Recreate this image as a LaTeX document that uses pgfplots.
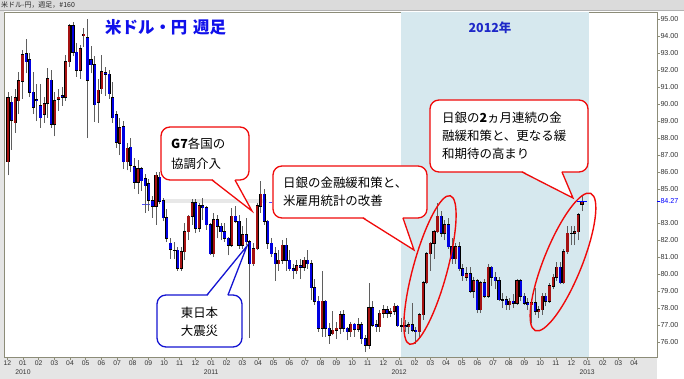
\documentclass[border=0pt]{standalone}
\usepackage{fontspec}
\setmainfont{Liberation Sans}
\newfontfamily\jp{Noto Sans CJK JP}
\usepackage{pgfplots}
\usepackage{pgfplotstable}
\pgfplotsset{compat=1.18}
\definecolor{framec}{RGB}{140,140,120}
\definecolor{upred}{RGB}{165,18,18}
\definecolor{dnblue}{RGB}{0,0,225}
\definecolor{shade}{RGB}{214,232,238}
\definecolor{wick}{RGB}{95,95,95}
\definecolor{titleblue}{RGB}{16,16,235}
\definecolor{yearblue}{RGB}{30,40,200}
\definecolor{calred}{RGB}{240,10,10}
\definecolor{calblue}{RGB}{20,20,210}

\pgfplotstableread{
i o h l c
0 86.6 90.7 85.8 90.35
1 90.1 90.5 87.3 89.05
2 88.9 90.9 88.3 90.35
3 90.2 91.9 89.4 91.35
4 91.35 93.2 90.3 92.9
5 92.95 93.8 91.8 92.5
6 92.6 93.0 90.4 90.7
7 90.7 91.9 89.4 89.8
8 90.25 91.2 89.0 90.2
9 89.9 91.2 88.6 89.2
10 89.4 90.4 88.9 90.0
11 90.05 92.1 89.2 91.5
12 91.4 92.0 88.6 88.8
13 88.8 90.7 88.1 90.2
14 90.3 90.9 89.6 90.4
15 90.5 91.0 89.9 90.4
16 90.4 92.9 90.2 92.5
17 92.5 94.7 92.2 94.6
18 94.6 94.8 92.8 93.05
19 93.05 93.6 91.6 92.0
20 92.0 93.5 91.5 93.25
21 94.05 94.5 93.35 94.1
22 93.9 94.99 88.0 91.4
23 92.6 93.4 91.8 92.3
24 92.3 92.8 88.95 89.95
25 90.1 91.5 88.9 90.8
26 90.9 92.9 90.6 91.9
27 91.85 92.2 90.5 91.75
28 91.75 92.0 90.3 90.6
29 90.35 91.3 88.9 89.2
30 89.35 89.6 87.4 87.75
31 87.7 89.2 87.0 88.6
32 88.65 89.0 86.2 86.6
33 86.6 87.7 86.1 87.4
34 87.45 88.0 86.0 86.4
35 86.3 86.8 85.0 85.4
36 85.4 86.7 84.7 86.2
37 86.2 86.3 84.9 85.5
38 85.6 85.9 83.6 85.2
39 85.3 85.6 83.7 84.35
40 84.3 84.6 83.3 84.0
41 84.0 86.0 82.9 85.8
42 85.7 86.0 84.1 84.3
43 84.3 84.5 83.1 83.3
44 83.3 83.8 81.9 82.1
45 81.8 82.1 80.9 81.45
46 81.4 81.9 80.9 81.4
47 81.4 81.6 80.2 80.35
48 80.35 81.6 80.2 81.3
49 81.3 83.0 80.8 82.5
50 82.5 83.5 82.0 83.4
51 83.4 84.4 82.9 84.2
52 84.2 84.4 82.4 82.7
53 82.7 84.2 82.5 84.0
54 84.0 84.5 83.2 83.9
55 83.9 84.0 82.6 82.9
56 82.9 83.0 81.1 81.2
57 81.2 83.6 81.0 83.2
58 83.2 83.5 82.1 82.8
59 82.8 83.0 82.0 82.5
60 82.5 83.0 81.9 82.1
61 82.1 82.2 81.1 81.7
62 81.7 83.9 81.6 83.4
63 83.4 84.0 83.0 83.1
64 83.1 83.5 81.5 81.7
65 81.7 82.8 81.5 82.3
66 82.3 83.3 81.7 81.9
67 81.9 82.0 76.25 80.6
68 80.6 81.8 80.5 81.5
69 81.5 84.2 81.4 84.0
70 84.0 85.5 83.6 84.7
71 84.7 85.0 82.9 83.1
72 83.1 83.2 81.5 81.8
73 81.8 82.1 81.0 81.2
74 81.2 81.6 79.6 80.6
75 80.6 81.4 80.2 80.8
76 80.8 82.0 80.6 81.7
77 81.7 82.1 80.2 80.8
78 80.8 81.4 80.2 80.3
79 80.3 80.6 79.7 80.2
80 80.2 80.8 80.0 80.5
81 80.5 80.9 79.7 80.4
82 80.4 81.0 80.2 80.8
83 80.8 81.4 80.3 80.6
84 80.6 80.8 78.5 79.2
85 79.2 79.7 78.2 78.4
86 78.4 78.7 76.6 76.8
87 76.8 80.2 76.3 78.4
88 78.4 78.5 76.3 76.8
89 76.8 77.1 75.9 76.4
90 76.5 77.8 76.4 76.7
91 76.7 77.2 76.2 76.8
92 76.8 77.8 76.5 77.6
93 77.6 77.9 76.6 76.8
94 76.8 76.9 76.1 76.6
95 76.6 77.2 76.3 77.05
96 77.05 77.1 76.3 76.75
97 76.75 77.4 76.6 77.0
98 77.0 77.2 75.9 76.2
99 76.2 76.4 75.4 75.8
100 75.8 79.5 75.6 78.0
101 78.0 78.4 76.9 77.0
102 77.0 77.3 76.6 76.9
103 76.9 77.9 76.6 77.7
104 77.7 78.2 77.4 77.9
105 77.9 78.1 77.4 77.7
106 77.7 78.0 77.5 77.8
107 77.8 78.3 77.6 78.1
108 78.1 78.2 76.9 76.95
109 76.95 77.4 76.6 76.95
110 76.95 77.3 76.6 76.9
111 76.9 77.2 76.5 77.0
112 77.0 78.3 76.6 76.7
113 76.7 76.9 75.9 76.6
114 76.6 77.7 76.2 77.6
115 77.6 79.6 77.3 79.5
116 79.5 81.3 79.4 81.2
117 81.2 81.9 80.2 81.8
118 81.8 82.6 80.9 82.5
119 82.5 84.2 82.4 83.4
120 83.4 83.7 82.2 82.4
121 82.4 83.2 82.0 82.9
122 82.9 83.3 81.5 81.6
123 81.6 82.1 80.6 80.9
124 80.9 81.8 80.6 81.6
125 81.6 81.9 80.2 80.3
126 80.3 80.6 79.6 79.9
127 79.8 80.4 79.6 80.0
128 80.0 80.4 78.9 79.0
129 79.0 79.8 78.6 79.6
130 79.6 79.7 77.7 77.9
131 77.9 79.6 77.7 79.5
132 79.5 79.7 78.6 78.7
133 78.7 80.6 78.6 80.4
134 80.4 80.5 79.3 79.8
135 79.8 80.1 79.1 79.6
136 79.6 79.8 78.4 78.5
137 78.5 78.9 78.0 78.5
138 78.5 78.7 77.9 78.2
139 78.2 78.6 77.9 78.4
140 78.4 78.8 78.0 78.3
141 78.3 79.7 78.2 79.6
142 79.6 79.7 78.4 78.7
143 78.7 78.9 78.2 78.3
144 78.3 78.6 77.9 78.2
145 78.2 78.4 77.1 78.3
146 78.3 79.2 77.6 77.8
147 77.8 78.1 77.4 77.9
148 77.9 78.9 77.6 78.7
149 78.7 78.9 78.1 78.4
150 78.4 79.5 78.3 79.3
151 79.3 80.0 79.1 79.8
152 79.8 80.7 79.6 80.4
153 80.4 80.7 79.4 79.5
154 79.5 81.5 79.4 81.3
155 81.3 82.8 81.2 82.4
156 82.4 82.8 81.7 82.4
157 82.4 82.8 81.7 82.5
158 82.5 83.6 82.0 83.5
159 84.1 84.65 83.7 84.27
}\usdjpy

\newcommand{\calfont}{\jp\fontsize{12.5}{12.5}\selectfont}

\begin{document}
\begin{tikzpicture}
\path[use as bounding box] (0,0) rectangle (684bp,379bp);
\fill[white] (0,0) rectangle (684bp,379bp);
\fill[black!10] (0,0) rectangle (657bp,22bp);
\fill[black!10] (0,0) rectangle (4bp,369bp);
\fill[black!14] (0,369bp) rectangle (684bp,379bp);
\draw[black!30, line width=0.5bp] (0,369bp) -- (684bp,369bp);
\begin{axis}[
  at={(4bp,22bp)}, anchor=south west,
  scale only axis, width=653bp, height=345bp,
  xmin=-1.2125, xmax=40.46, ymin=75.118, ymax=95.412,
  axis line style={draw=framec, line width=0.9bp},
  axis background/.style={fill=white},
  tick align=outside, major tick length=2.5bp,
  tick style={draw=framec, line width=0.5bp},
  xtick={-1,0,...,39},
  xticklabels={12,{01\\2010},02,03,04,05,06,07,08,09,10,11,12,{01\\2011},02,03,04,05,06,07,08,09,10,11,12,{01\\2012},02,03,04,05,06,07,08,09,10,11,12,{01\\2013},02,03,04},
  x tick label style={font=\fontsize{6.8}{9.5}\selectfont, align=center, inner sep=1bp, text=black!80},
  xtick pos=left,
  ytick={76,77,78,79,80,81,82,83,85,86,87,88,89,90,91,92,93,94,95},
  ytick pos=right, yticklabel pos=right,
  /pgf/number format/assume math mode=true,
  yticklabel={\pgfmathprintnumber[fixed,fixed zerofill,precision=2]{\tick}},
  y tick label style={font=\fontsize{7.2}{8}\selectfont, inner sep=0.8bp, text=black!80},
  extra y ticks={84.27}, extra y tick labels={84.27},
  extra y tick style={tick style={draw=blue}, yticklabel style={text=blue}},
  candle/.style={draw=none, mark=none, error bars/y explicit, error bars/error mark=none},
]
% 2012 shading
\addplot[fill=shade, draw=none] coordinates {(24.1,75.118) (36.1,75.118) (36.1,95.412) (24.1,95.412)} -- cycle;
% price band
\addplot[draw=black!9, line width=4bp] coordinates {(9.0,84.3) (15.6,84.3)};
\addplot[draw=blue!70, line width=0.6bp] coordinates {(7.6,84.1) (8.1,84.1)};
\addplot[draw=blue!70, line width=0.6bp, dashed] coordinates {(15.3,84.24) (16.1,84.24)};
% wicks
\addplot[candle, error bars/.cd, y dir=plus, error bar style={draw=wick, line width=0.9bp}]
  table[x expr={\thisrow{i}*0.23037-0.957}, y=l, y error plus expr={\thisrow{h}-\thisrow{l}}] {\usdjpy};
% body outline
\addplot[candle, error bars/.cd, y dir=both, error bar style={draw=black, line width=3.1bp}]
  table[x expr={\thisrow{i}*0.23037-0.957}, y expr={(\thisrow{o}+\thisrow{c})/2},
        y error expr={abs(\thisrow{c}-\thisrow{o})/2+0.035}] {\usdjpy};
% down bodies
\addplot[candle, error bars/.cd, y dir=both, error bar style={draw=dnblue, line width=2.2bp}]
  table[x expr={\thisrow{i}*0.23037-0.957}, y expr={(\thisrow{o}+\thisrow{c})/2},
        y error expr={max(\thisrow{o}-\thisrow{c},0)/2}] {\usdjpy};
% up bodies
\addplot[candle, error bars/.cd, y dir=both, error bar style={draw=upred, line width=2.2bp}]
  table[x expr={\thisrow{i}*0.23037-0.957}, y expr={(\thisrow{o}+\thisrow{c})/2},
        y error expr={max(\thisrow{c}-\thisrow{o},0)/2}] {\usdjpy};
% last price marker
\addplot[only marks, mark=-, mark size=5bp, draw=blue, mark options={line width=0.8bp}] coordinates {(35.672,84.27)};
\end{axis}
\begin{scope}[shift={(0bp,379bp)}, x=1bp, y=-1bp]
  \node[anchor=west, inner sep=0, font=\jp\fontsize{7}{7}\selectfont, text=black!85] at (1,5) {米ドル-円，週足，\#160};
  \node[anchor=west, inner sep=0, text=titleblue, font=\jp\bfseries\fontsize{16.5}{16.5}\selectfont] at (105,27) {米ドル・円\hspace{0.35em}週足};
  \node[inner sep=0, text=yearblue, font=\jp\bfseries\fontsize{12.5}{12.5}\selectfont] at (490,28) {2012年};
  % ellipses
  \draw[calred, line width=1.4bp, rotate around={74.7:(430,270)}] (430,270) ellipse [x radius=77, y radius=17];
  \draw[calred, line width=1.4bp, rotate around={68:(563,262)}] (563,262) ellipse [x radius=74, y radius=19];
  % G7 callout
  \draw[calred, line width=1.3bp, fill=white, rounded corners=9] (161,127) rectangle (249,180);
  \fill[white] (212.5,179) -- (252,211) -- (235,179) -- cycle;
  \draw[calred, line width=1.3bp] (212,180) -- (252,211) -- (235,180);
  \node[anchor=west, inner sep=0, font=\calfont] at (171,144) {\textbf{G7}各国の};
  \node[anchor=west, inner sep=0, font=\calfont] at (171,164) {協調介入};
  % BOJ callout 1
  \draw[calred, line width=1.3bp, fill=white, rounded corners=9] (273,166) rectangle (427,218);
  \fill[white] (363.5,217) -- (414,250) -- (402.5,217) -- cycle;
  \draw[calred, line width=1.3bp] (363,218) -- (414,250) -- (403,218);
  \node[anchor=west, inner sep=0, font=\calfont] at (283,183) {日銀の金融緩和策と、};
  \node[anchor=west, inner sep=0, font=\calfont] at (283,201) {米雇用統計の改善};
  % BOJ callout 2
  \draw[calred, line width=1.3bp, fill=white, rounded corners=9] (430,100) rectangle (588,172);
  \fill[white] (522.5,171) -- (573,198) -- (561.5,171) -- cycle;
  \draw[calred, line width=1.3bp] (522,172) -- (573,198) -- (562,172);
  \node[anchor=west, inner sep=0, font=\calfont] at (442,118) {日銀の\textbf{2}ヵ月連続の金};
  \node[anchor=west, inner sep=0, font=\calfont] at (442,136) {融緩和策と、更なる緩};
  \node[anchor=west, inner sep=0, font=\calfont] at (442,154) {和期待の高まり};
  % earthquake callout
  \draw[calblue, line width=1.3bp, fill=white, rounded corners=9] (157,295) rectangle (242,347);
  \fill[white] (207.5,296) -- (247,246) -- (227.5,296) -- cycle;
  \draw[calblue, line width=1.3bp] (207,295) -- (247,246) -- (228,295);
  \node[inner sep=0, font=\calfont] at (199.5,313) {東日本};
  \node[inner sep=0, font=\calfont] at (199.5,331) {大震災};
\end{scope}
\end{tikzpicture}
\end{document}
